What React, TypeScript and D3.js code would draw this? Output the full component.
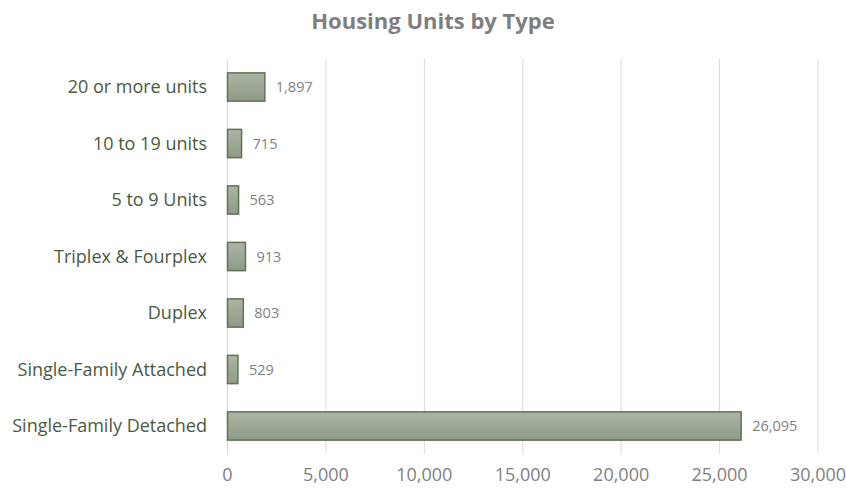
import React from "react";
import * as d3 from "d3";

const categories = [
  "20 or more units",
  "10 to 19 units",
  "5 to 9 Units",
  "Triplex & Fourplex",
  "Duplex",
  "Single-Family Attached",
  "Single-Family Detached",
];
const values = [1897, 715, 563, 913, 803, 529, 26095];
const xTicks = [0, 5000, 10000, 15000, 20000, 25000, 30000];
const title = "Housing Units by Type";

const W = 846;
const H = 493;
const FONT = "'Open Sans', Lato, sans-serif";

export default function App() {
  const left = 227.5;
  const right = 818;
  const top = 58.75;
  const bottom = 454.25;
  const x = d3.scaleLinear().domain([0, 30000]).range([left, right]);
  const y = d3.scaleBand<string>().domain(categories).range([top, bottom]).paddingInner(0.5).paddingOuter(0.25);
  const fmt = d3.format(",");
  return (
    <svg width={W} height={H} style={{ position: "absolute", left: 0, top: 0, background: "#fff" }}>
      <defs>
        <linearGradient id="barg" x1="0" y1="0" x2="0" y2="1">
          <stop offset="0" stopColor="#adb5a6" />
          <stop offset="1" stopColor="#8f9a88" />
        </linearGradient>
      </defs>
      <text x={433} y={29} textAnchor="middle" fontFamily={FONT} fontWeight="bold" fontSize={22} fill="#7f7f7f">
        {title}
      </text>
      {xTicks.map((t) => (
        <g key={t}>
          <line x1={x(t)} x2={x(t)} y1={top} y2={bottom} stroke="#d9d9d9" strokeWidth={1} />
          <text x={x(t)} y={481} textAnchor="middle" fontFamily={FONT} fontSize={18} fill="#7f7f7f">
            {fmt(t)}
          </text>
        </g>
      ))}
      {categories.map((c, i) => {
        const by = y(c)!;
        const bh = y.bandwidth();
        return (
          <g key={c}>
            <rect
              x={x(0)}
              y={by}
              width={x(values[i]) - x(0)}
              height={bh}
              fill="url(#barg)"
              stroke="#5f7352"
              strokeWidth={1.5}
            />
            <text x={207} y={by + bh / 2} dy="0.35em" textAnchor="end" fontFamily={FONT} fontSize={18} fill="#4a5a40">
              {c}
            </text>
            <text x={x(values[i]) + 11} y={by + bh / 2} dy="0.35em" fontFamily={FONT} fontSize={14.5} fill="#7f7f7f">
              {fmt(values[i])}
            </text>
          </g>
        );
      })}
    </svg>
  );
}
